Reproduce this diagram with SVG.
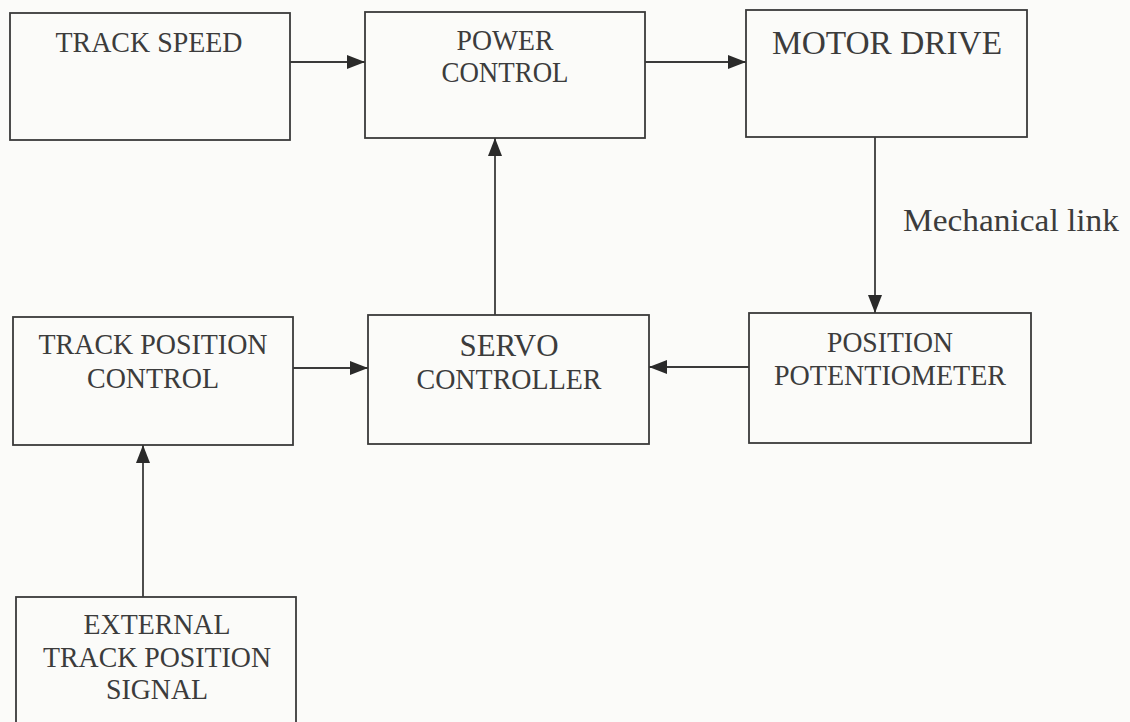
<svg xmlns="http://www.w3.org/2000/svg" width="1130" height="722" viewBox="0 0 1130 722">
  <style>
    .box { fill: none; stroke: #3a3a3a; stroke-width: 1.8; }
    .wire { fill: none; stroke: #3a3a3a; stroke-width: 1.8; }
    .lbl { font-family: "Liberation Serif", "Times New Roman", serif; fill: #3c3c3c; text-anchor: middle; }
  </style>
  <defs>
    <marker id="head" markerUnits="userSpaceOnUse" markerWidth="20" markerHeight="14" refX="18" refY="7" orient="auto">
      <path d="M0,0 L18,7 L0,14 Z" fill="#2a2a2a"/>
    </marker>
  </defs>
  <rect width="1130" height="722" fill="#fbfbf9"/>

  <g id="track-speed">
    <rect class="box" x="10" y="13" width="280" height="127"/>
    <text class="lbl" x="149" y="52" font-size="29" textLength="187" lengthAdjust="spacingAndGlyphs">TRACK SPEED</text>
  </g>

  <g id="power-control">
    <rect class="box" x="365" y="12" width="280" height="126"/>
    <text class="lbl" x="505" y="50" font-size="29" textLength="97" lengthAdjust="spacingAndGlyphs">POWER</text>
    <text class="lbl" x="505" y="82" font-size="29" textLength="127" lengthAdjust="spacingAndGlyphs">CONTROL</text>
  </g>

  <g id="motor-drive">
    <rect class="box" x="746" y="10" width="281" height="127"/>
    <text class="lbl" x="887" y="54" font-size="33" textLength="230" lengthAdjust="spacingAndGlyphs">MOTOR DRIVE</text>
  </g>

  <g id="track-position-control">
    <rect class="box" x="13" y="317" width="280" height="128"/>
    <text class="lbl" x="153" y="354" font-size="30" textLength="229" lengthAdjust="spacingAndGlyphs">TRACK POSITION</text>
    <text class="lbl" x="153" y="388" font-size="30" textLength="132" lengthAdjust="spacingAndGlyphs">CONTROL</text>
  </g>

  <g id="servo-controller">
    <rect class="box" x="368" y="315" width="281" height="129"/>
    <text class="lbl" x="509" y="356" font-size="31" textLength="99" lengthAdjust="spacingAndGlyphs">SERVO</text>
    <text class="lbl" x="509" y="389" font-size="30" textLength="185" lengthAdjust="spacingAndGlyphs">CONTROLLER</text>
  </g>

  <g id="position-potentiometer">
    <rect class="box" x="749" y="313" width="282" height="130"/>
    <text class="lbl" x="890" y="352" font-size="30" textLength="126" lengthAdjust="spacingAndGlyphs">POSITION</text>
    <text class="lbl" x="890" y="385" font-size="30" textLength="232" lengthAdjust="spacingAndGlyphs">POTENTIOMETER</text>
  </g>

  <g id="external-signal">
    <rect class="box" x="16" y="597" width="280" height="140"/>
    <text class="lbl" x="157" y="634" font-size="30" textLength="147" lengthAdjust="spacingAndGlyphs">EXTERNAL</text>
    <text class="lbl" x="157" y="667" font-size="30" textLength="228" lengthAdjust="spacingAndGlyphs">TRACK POSITION</text>
    <text class="lbl" x="157" y="699" font-size="30" textLength="102" lengthAdjust="spacingAndGlyphs">SIGNAL</text>
  </g>

  <g id="connectors">
    <line class="wire" x1="290" y1="62" x2="365" y2="62" marker-end="url(#head)"/>
    <line class="wire" x1="645" y1="62" x2="746" y2="62" marker-end="url(#head)"/>
    <line class="wire" x1="875" y1="137" x2="875" y2="313" marker-end="url(#head)"/>
    <line class="wire" x1="495" y1="315" x2="495" y2="138" marker-end="url(#head)"/>
    <line class="wire" x1="749" y1="367" x2="649" y2="367" marker-end="url(#head)"/>
    <line class="wire" x1="293" y1="368" x2="368" y2="368" marker-end="url(#head)"/>
    <line class="wire" x1="143" y1="597" x2="143" y2="445" marker-end="url(#head)"/>
    <text class="lbl" x="1011" y="231" font-size="31" textLength="216" lengthAdjust="spacingAndGlyphs">Mechanical link</text>
  </g>
</svg>
